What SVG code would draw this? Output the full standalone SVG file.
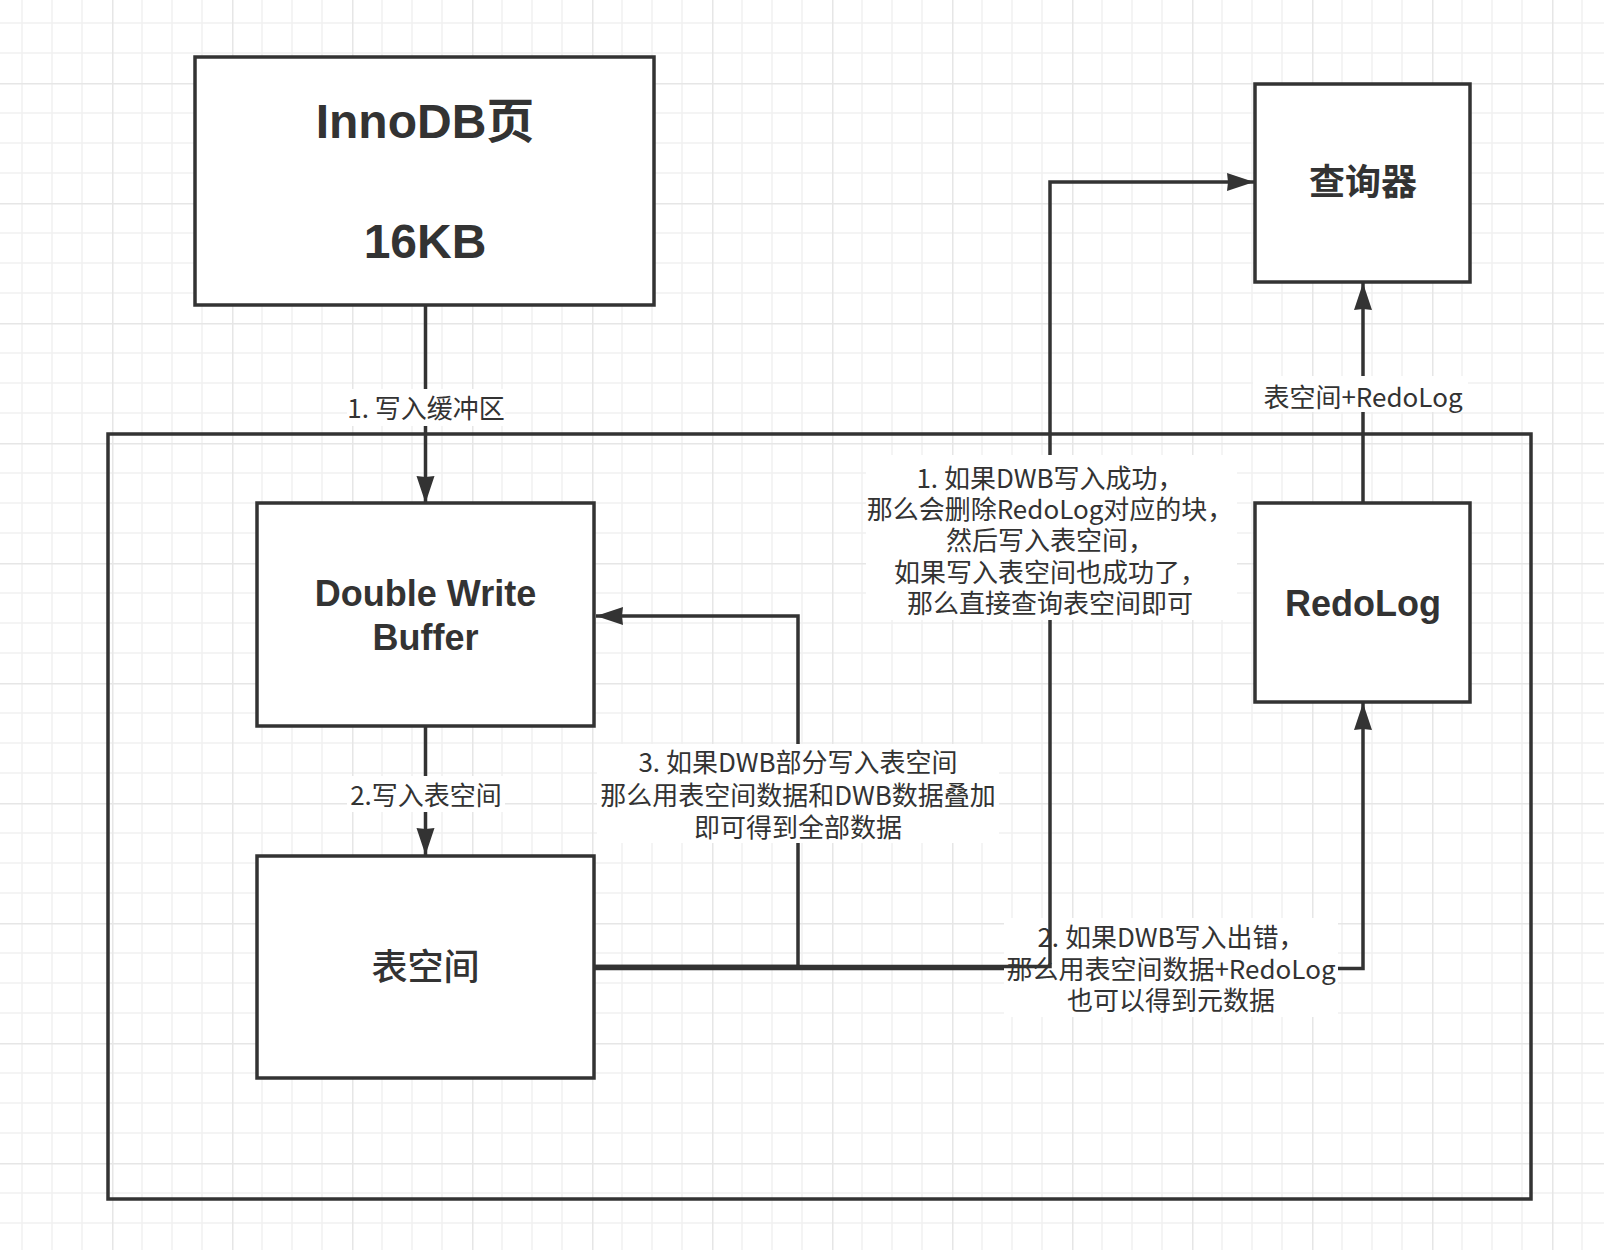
<svg xmlns="http://www.w3.org/2000/svg" width="1604" height="1250" viewBox="0 0 1604 1250">
<defs>
<pattern id="grid" x="-8" y="-37" width="120" height="120" patternUnits="userSpaceOnUse">
<path d="M30,0V120M60,0V120M90,0V120M0,30H120M0,60H120M0,90H120" stroke="#f1f1f1" stroke-width="1.5" fill="none"/>
<path d="M0.75,0V120M0,0.75H120" stroke="#e6e6e6" stroke-width="1.5" fill="none"/>
</pattern>
<marker id="arr" markerUnits="userSpaceOnUse" markerWidth="32" markerHeight="22" viewBox="-30 -11 32 22" refX="0" refY="0" orient="auto">
<path d="M0,0 L-27,-9 L-26,0 L-27,9 Z" fill="#333333"/>
</marker>
</defs>
<style>
.box{fill:#ffffff;stroke:#333333;stroke-width:3.5}
.edge{fill:none;stroke:#333333;stroke-width:3.5}
.lbl{font-family:"Noto Sans CJK SC","Liberation Sans",sans-serif;font-size:26px;fill:#333333;text-anchor:middle}
.lbg{fill:#ffffff}
.title{font-family:"Liberation Sans","Noto Sans CJK SC",sans-serif;font-weight:bold;fill:#333333;text-anchor:middle}
.cjk{font-family:"Noto Sans CJK SC",sans-serif;fill:#333333;text-anchor:middle}
</style>
<rect width="1604" height="1250" fill="#ffffff"/>
<rect width="1604" height="1250" fill="url(#grid)"/>

<g id="container">
<rect x="108" y="434" width="1423" height="765" fill="none" stroke="#333333" stroke-width="3.5"/>
</g>

<g id="innodb">
<rect class="box" x="195" y="57" width="459" height="248"/>
<text class="title" x="425" y="138" font-size="48">InnoDB页</text>
<text class="title" x="425" y="258" font-size="48">16KB</text>
</g>
<g id="query">
<rect class="box" x="1255" y="84" width="215" height="198"/>
<text class="cjk" x="1363" y="195" font-size="36" font-weight="bold">查询器</text>
</g>
<g id="dwb">
<rect class="box" x="257" y="503" width="337" height="223"/>
<text class="title" x="425.5" y="606" font-size="36">Double Write</text>
<text class="title" x="425.5" y="650" font-size="36">Buffer</text>
</g>
<g id="tablespace">
<rect class="box" x="257" y="856" width="337" height="222"/>
<text class="cjk" x="425.5" y="980" font-size="36" font-weight="500">表空间</text>
</g>
<g id="redolog">
<rect class="box" x="1255" y="503" width="215" height="199"/>
<text class="title" x="1363" y="616" font-size="36">RedoLog</text>
</g>

<g id="connectors">
<g id="e1">
<path class="edge" d="M425.5,305 V503" marker-end="url(#arr)"/>
<rect class="lbg" x="347" y="389" width="158" height="37"/>
<text class="lbl" x="426" y="417.5">1. 写入缓冲区</text>
</g>
<g id="e2">
<path class="edge" d="M425.5,726 V855" marker-end="url(#arr)"/>
<rect class="lbg" x="347" y="776" width="158" height="36"/>
<text class="lbl" x="426" y="804.5">2.写入表空间</text>
</g>
<g id="e3">
<path class="edge" d="M594,966.5 H798 V616 H596" marker-end="url(#arr)"/>
<rect class="lbg" x="597" y="744" width="402" height="99"/>
<text class="lbl" x="798" y="771.5">3. 如果DWB部分写入表空间</text>
<text class="lbl" x="798" y="804.5">那么用表空间数据和DWB数据叠加</text>
<text class="lbl" x="798" y="836.5">即可得到全部数据</text>
</g>
<g id="e5">
<path class="edge" d="M594,968.5 H1363 V703" marker-end="url(#arr)"/>
<rect class="lbg" x="1004" y="918" width="334" height="99"/>
<text class="lbl" x="1171" y="946.5">2. 如果DWB写入出错，</text>
<text class="lbl" x="1171" y="978.5">那么用表空间数据+RedoLog</text>
<text class="lbl" x="1171" y="1009.5">也可以得到元数据</text>
</g>
<g id="e4">
<path class="edge" d="M594,966.5 H1050 V182 H1254" marker-end="url(#arr)"/>
<rect class="lbg" x="866" y="455" width="371" height="165"/>
<text class="lbl" x="1050" y="487.5">1. 如果DWB写入成功，</text>
<text class="lbl" x="1050" y="519">那么会删除RedoLog对应的块，</text>
<text class="lbl" x="1050" y="550">然后写入表空间，</text>
<text class="lbl" x="1050" y="581.5">如果写入表空间也成功了，</text>
<text class="lbl" x="1050" y="612.5">那么直接查询表空间即可</text>
</g>
<g id="e6">
<path class="edge" d="M1363,503 V283" marker-end="url(#arr)"/>
<rect class="lbg" x="1253" y="376" width="215" height="36"/>
<text class="lbl" x="1363" y="406.5">表空间+RedoLog</text>
</g>
</g>
</svg>
